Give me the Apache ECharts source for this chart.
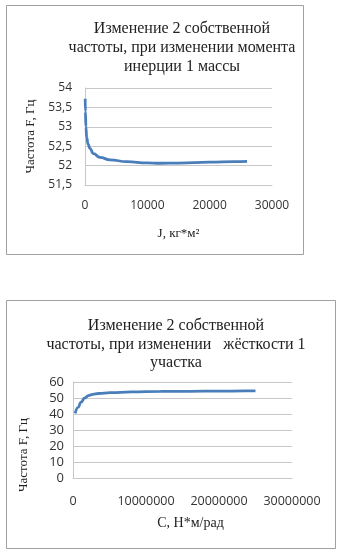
<!DOCTYPE html>
<html>
<head>
<meta charset="utf-8">
<script src="https://cdn.jsdelivr.net/npm/echarts@6/dist/echarts.min.js"></script>
<style>
  html, body { margin: 0; padding: 0; background: #fff; }
  #chart { width: 341px; height: 553px; }
</style>
</head>
<body>
<div id="chart"></div>
<script>
// верхний график: частота от момента инерции J
const jValues = [30, 60, 150, 270, 500, 800, 1340, 2400, 4000, 6700, 10000, 12000, 15000, 20000, 24000, 26000]
const freqByJ = [53.72, 53.4, 53.0, 52.73, 52.55, 52.44, 52.31, 52.21, 52.15, 52.1, 52.07, 52.06, 52.065, 52.09, 52.1, 52.11]
const jTicks = [51.5, 52, 52.5, 53, 53.5, 54]

// нижний график: частота от жёсткости C
const cValues = [300000, 700000, 1100000, 1600000, 2100000, 2700000, 3500000, 5100000, 8000000, 12000000, 16000000, 20000000, 23600000, 25000000]
const freqByC = [40.4, 44.2, 47.4, 50.0, 51.5, 52.3, 52.8, 53.3, 53.8, 54.1, 54.2, 54.3, 54.4, 54.5]

const titles = [
  'Изменение 2 собственной\nчастоты, при изменении момента\nинерции 1 массы',
  'Изменение 2 собственной\nчастоты, при изменении   жёсткости 1\nучастка'
]

const serif = '"Liberation Serif", "DejaVu Serif", serif'
const sans = '"Open Sans", "Liberation Sans", sans-serif'
const lineColor = '#4a7ebb'
const gridColor = '#c8c8c8'

const toPairs = (xs, ys) => xs.map((x, i) => [x, ys[i]])

const chart = echarts.init(document.getElementById('chart'))

const option = {
  backgroundColor: '#fff',
  animation: false,
  title: [
    {
      text: titles[0], left: 177, top: 14, textAlign: 'center',
      textStyle: { fontFamily: serif, fontSize: 16, fontWeight: 'normal', color: '#222', lineHeight: 19 }
    },
    {
      text: titles[1], left: 171, top: 312, textAlign: 'center',
      textStyle: { fontFamily: serif, fontSize: 16, fontWeight: 'normal', color: '#222', lineHeight: 18.5 }
    }
  ],
  graphic: [
    { type: 'rect', shape: { x: 6.5, y: 5.5, width: 297, height: 249 }, style: { fill: 'none', stroke: '#a0a0a0', lineWidth: 1 } },
    { type: 'rect', shape: { x: 6.5, y: 300.5, width: 329, height: 248 }, style: { fill: 'none', stroke: '#a0a0a0', lineWidth: 1 } }
  ],
  grid: [
    { left: 85, top: 88, width: 187, height: 97 },
    { left: 73, top: 382, width: 219, height: 96 }
  ],
  xAxis: [
    {
      gridIndex: 0, type: 'value', min: 0, max: 30000, interval: 10000,
      name: 'J, кг*м²', nameLocation: 'middle', nameGap: 42,
      nameTextStyle: { fontFamily: serif, fontSize: 13, color: '#222' },
      axisLine: { lineStyle: { color: gridColor } },
      axisTick: { show: false },
      splitLine: { show: false },
      axisLabel: { fontFamily: sans, fontSize: 12, color: '#333', margin: 15, formatter: v => String(v) }
    },
    {
      gridIndex: 1, type: 'value', min: 0, max: 30000000, interval: 10000000,
      name: 'C, Н*м/рад', nameLocation: 'middle', nameGap: 38,
      nameTextStyle: { fontFamily: serif, fontSize: 14, color: '#222', padding: [0, 0, 0, 16] },
      axisLine: { lineStyle: { color: gridColor } },
      axisTick: { show: false },
      splitLine: { show: false },
      axisLabel: { fontFamily: sans, fontSize: 12.5, color: '#333', margin: 17, formatter: v => String(v) }
    }
  ],
  yAxis: [
    {
      gridIndex: 0, type: 'value', min: jTicks[0], max: jTicks[jTicks.length - 1], interval: 0.5,
      name: 'Частота F, Гц', nameLocation: 'middle', nameGap: 47, nameRotate: 90,
      nameTextStyle: { fontFamily: serif, fontSize: 13, color: '#222' },
      axisLine: { show: true, lineStyle: { color: gridColor } },
      axisTick: { show: false },
      splitLine: { lineStyle: { color: gridColor } },
      axisLabel: {
        fontFamily: sans, fontSize: 12, color: '#333', margin: 13,
        formatter: v => String(v).replace('.', ',')
      }
    },
    {
      gridIndex: 1, type: 'value', min: 0, max: 60, interval: 10,
      name: 'Частота F, Гц', nameLocation: 'middle', nameGap: 43, nameRotate: 90,
      nameTextStyle: { fontFamily: serif, fontSize: 13, color: '#222', padding: [0, 50, 0, 0] },
      axisLine: { show: true, lineStyle: { color: gridColor } },
      axisTick: { show: false },
      splitLine: { lineStyle: { color: gridColor } },
      axisLabel: { fontFamily: sans, fontSize: 13, color: '#333', margin: 9 }
    }
  ],
  series: [
    {
      type: 'line', xAxisIndex: 0, yAxisIndex: 0,
      data: toPairs(jValues, freqByJ),
      smooth: 0.5, smoothMonotone: 'x', symbol: 'none',
      lineStyle: { color: lineColor, width: 2.8 }
    },
    {
      type: 'line', xAxisIndex: 1, yAxisIndex: 1,
      data: toPairs(cValues, freqByC),
      smooth: 0.5, smoothMonotone: 'x', symbol: 'none',
      lineStyle: { color: lineColor, width: 2.8 }
    }
  ]
}

chart.setOption(option)
</script>
</body>
</html>
